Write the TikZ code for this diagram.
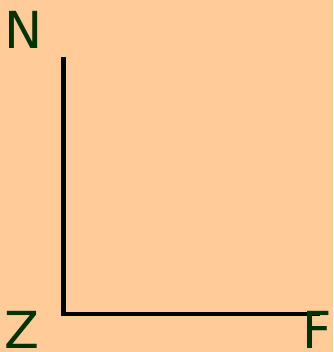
\documentclass[tikz,border=0pt]{standalone}
\usepackage{fontspec}
\setmainfont{DejaVu Sans}
\usetikzlibrary{positioning}
\definecolor{peach}{HTML}{FFCC99}
\definecolor{labelgreen}{HTML}{003300}

\begin{document}
\begin{tikzpicture}[x=1pt, y=-1pt,
  axislabel/.style={font=\fontsize{51}{51}\selectfont, text=labelgreen,
    inner sep=0pt, anchor=base},
  axis/.style={draw=black, line width=4.5pt, line join=miter}
]
  \fill[peach] (0,0) rectangle (333,352);
  \useasboundingbox (0,0) rectangle (333,352);
  % corner points of the axes
  \coordinate (top) at (63.5,57);
  \coordinate (origin) at (63.5,314);
  \coordinate (right) at (320,314);
  \draw[axis] (top) -- (origin) -- (right);
  % labels
  \node[axislabel] (n) at (24,49) {N};
  \node[axislabel] (z) at (22,348) {Z};
  \node[axislabel] (f) at (317,348) {F};
\end{tikzpicture}
\end{document}
